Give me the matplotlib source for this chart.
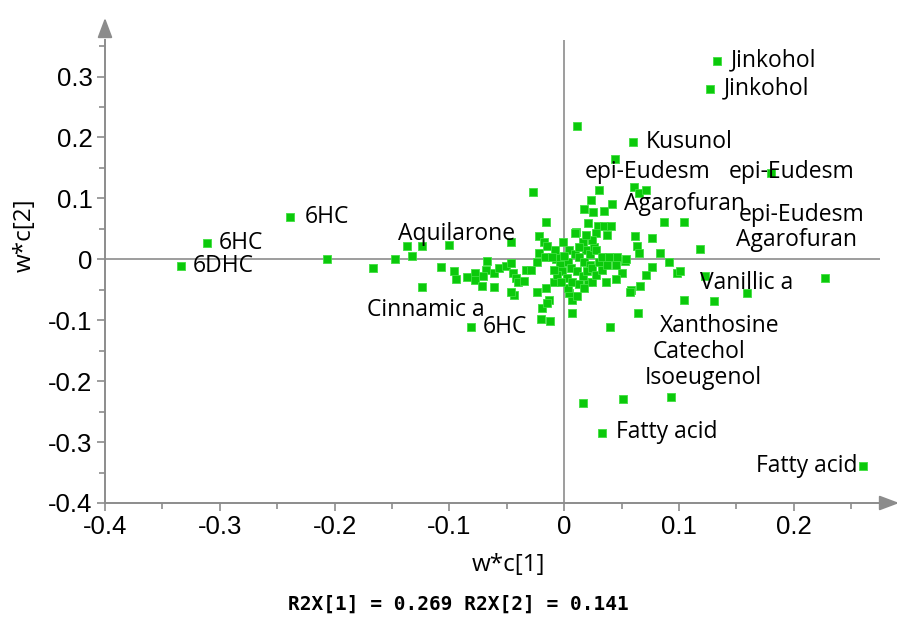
import matplotlib
matplotlib.use("Agg")
import matplotlib.pyplot as plt

plt.rcParams['axes.unicode_minus'] = False

# ---- loadings w*c[1] (x) and w*c[2] (y) ----
wc1 = [0.133, 0.127, 0.060, 0.044, 0.180, 0.011, -0.239, -0.311, -0.334, -0.081,
       0.033, 0.260, 0.016, 0.051, 0.093, 0.227, 0.159, 0.130, 0.104, 0.123,
       0.118, 0.104, 0.087, 0.083, 0.091, 0.098, 0.101, 0.064, 0.040, 0.007,
       0.007, -0.027, 0.030, 0.061, 0.065, 0.071, 0.023, 0.017, 0.025, 0.035,
       0.042, -0.016, 0.021, 0.029, 0.035, 0.041, 0.028, 0.037, 0.062, 0.076,
       0.063, 0.065, 0.053, 0.076, 0.071, 0.050, 0.045, 0.036, 0.066, 0.058,
       0.057, 0.021, 0.024, 0.004, 0.003, -0.100, -0.046, -0.107, -0.067, -0.068,
       -0.096, -0.094, -0.085, -0.078, -0.078, -0.072, -0.071, -0.061, -0.061, -0.057,
       -0.051, -0.046, -0.045, -0.042, -0.040, -0.035, -0.033, -0.029, -0.044, -0.046,
       -0.024, -0.016, -0.009, -0.013, -0.019, -0.015, -0.020, -0.012, -0.022, -0.018,
       -0.015, -0.022, -0.017, -0.024, -0.007, -0.004, -0.207, -0.167, -0.147, -0.137,
       -0.133, -0.124, -0.124,
       -0.001, 0.010, 0.016, 0.019, 0.004, 0.009, 0.013, 0.017, 0.022, 0.003,
       0.006, 0.011, 0.016, 0.020, 0.024, -0.004, -0.002, 0.002, 0.007, 0.013,
       0.017, -0.006, -0.003, -0.009, 0.011, 0.022, 0.026, 0.013, -0.008, -0.011,
       0.028, 0.030, 0.033, 0.000, 0.024, 0.019, 0.028, 0.033, 0.039, 0.046,
       0.054, 0.045, 0.037, 0.009]
wc2 = [0.326, 0.279, 0.192, 0.165, 0.142, 0.219, 0.070, 0.026, -0.011, -0.111,
       -0.285, -0.339, -0.236, -0.229, -0.226, -0.030, -0.055, -0.068, -0.066, -0.027,
       0.017, 0.062, 0.062, 0.011, -0.004, -0.022, -0.019, -0.088, -0.111, -0.088,
       -0.066, 0.111, 0.114, 0.119, 0.109, 0.113, 0.098, 0.083, 0.077, 0.080,
       0.091, 0.062, 0.060, 0.054, 0.054, 0.054, 0.044, 0.040, 0.039, 0.035,
       0.022, 0.011, -0.002, -0.012, -0.025, -0.022, -0.032, -0.038, -0.043, -0.050,
       -0.053, -0.038, -0.037, -0.055, -0.047, 0.024, 0.029, -0.012, -0.002, -0.017,
       -0.020, -0.032, -0.029, -0.022, -0.034, -0.043, -0.027, -0.045, -0.022, -0.015,
       -0.011, -0.006, -0.022, -0.030, -0.038, -0.035, -0.017, -0.017, -0.058, -0.053,
       -0.053, -0.047, -0.037, -0.066, -0.080, -0.071, -0.098, -0.101, 0.039, 0.029,
       0.022, 0.011, 0.004, -0.004, 0.000, 0.004, 0.001, -0.015, 0.001, 0.022,
       0.006, 0.022, -0.045,
       0.029, 0.045, 0.029, 0.016, 0.016, 0.008, 0.003, -0.004, -0.009, -0.004,
       -0.014, -0.020, -0.027, -0.020, -0.014, -0.009, -0.020, -0.030, -0.037, -0.040,
       -0.047, -0.025, -0.038, -0.017, -0.060, 0.008, 0.021, 0.021, 0.016, 0.003,
       -0.025, -0.004, -0.017, 0.006, 0.032, 0.040, 0.016, 0.004, 0.004, 0.004,
       0.000, -0.009, -0.009, 0.044]

# ---- variable labels ----
label_texts = ["Jinkohol", "Jinkohol", "Kusunol", "epi-Eudesm", "epi-Eudesm",
               "Agarofuran", "epi-Eudesm", "Agarofuran", "Aquilarone", "6HC",
               "6HC", "6DHC", "Cinnamic a", "6HC", "Vanillic a", "Xanthosine",
               "Catechol", "Isoeugenol", "Fatty acid", "Fatty acid"]
label_x = [0.145, 0.139, 0.071, 0.018, 0.143, 0.052, 0.152, 0.150, -0.145, -0.226,
           -0.301, -0.324, -0.172, -0.071, 0.118, 0.083, 0.077, 0.070, 0.045, 0.255]
label_y = [0.326, 0.280, 0.193, 0.144, 0.144, 0.091, 0.073, 0.032, 0.042, 0.070,
           0.027, -0.011, -0.083, -0.111, -0.039, -0.109, -0.152, -0.195, -0.284, -0.339]
label_ha = ["left"] * 19 + ["right"]

xticks = [-0.4, -0.3, -0.2, -0.1, 0, 0.1, 0.2]
yticks = [-0.4, -0.3, -0.2, -0.1, 0, 0.1, 0.2, 0.3]
xtick_labels = ["-0.4", "-0.3", "-0.2", "-0.1", "0", "0.1", "0.2"]
ytick_labels = ["-0.4", "-0.3", "-0.2", "-0.1", "0", "0.1", "0.2", "0.3"]

W, H = 897, 617
fig = plt.figure(figsize=(W / 100, H / 100), dpi=100)
ax = fig.add_axes([105 / W, 1 - 503 / H, 775 / W, 463 / H])

gray = "#8c8c8c"
ax.axhline(0, color=gray, lw=1.2, zorder=1)
ax.axvline(0, color=gray, lw=1.2, zorder=1)

ax.scatter(wc1, wc2, marker="s", s=40, facecolor="#0bc90b",
           edgecolor="#40e040", linewidth=0.6, zorder=3)

label_font = "Open Sans"
for t, x, y, ha in zip(label_texts, label_x, label_y, label_ha):
    ax.text(x, y, t, ha=ha, va="center", fontsize=16.5, family=label_font,
            color="black", zorder=4)

ax.set_xlim(-0.4, 0.275)
ax.set_ylim(-0.4, 0.36)
for s in ["top", "right"]:
    ax.spines[s].set_visible(False)
for s in ["left", "bottom"]:
    ax.spines[s].set_color(gray)
    ax.spines[s].set_linewidth(1.4)

ax.set_xticks(xticks)
ax.set_xticklabels(xtick_labels)
ax.set_yticks(yticks)
ax.set_yticklabels(ytick_labels)
ax.set_xticks([-0.35, -0.25, -0.15, -0.05, 0.05, 0.15, 0.25], minor=True)
ax.set_yticks([-0.35, -0.25, -0.15, -0.05, 0.05, 0.15, 0.25, 0.35], minor=True)
ax.tick_params(which="major", length=6, width=1.2, color=gray, direction="out",
               labelsize=18.5, pad=3)
ax.tick_params(which="minor", length=4, width=1.2, color=gray, direction="out")
for lab in ax.get_xticklabels() + ax.get_yticklabels():
    lab.set_family("Liberation Sans")

# arrow heads
ax.annotate("", xy=(0, 1.0 + 25 / 463), xycoords="axes fraction",
            xytext=(0, 1.0), textcoords="axes fraction",
            arrowprops=dict(arrowstyle="-|>,head_length=1.2,head_width=0.45",
                            color=gray, lw=1.4))
ax.annotate("", xy=(1.0 + 22 / 775, 0), xycoords="axes fraction",
            xytext=(1.0, 0), textcoords="axes fraction",
            arrowprops=dict(arrowstyle="-|>,head_length=1.2,head_width=0.45",
                            color=gray, lw=1.4))

fig.text(508 / W, 1 - 565 / H, "w*c[1]", ha="center", va="center",
         fontsize=17.5, family=label_font)
fig.text(25 / W, 1 - 235 / H, "w*c[2]", ha="center", va="center",
         fontsize=17.5, family=label_font, rotation=90)
fig.text(458 / W, 1 - 604 / H, "R2X[1] = 0.269 R2X[2] = 0.141", ha="center",
         va="center", fontsize=14, family="DejaVu Sans Mono", weight="bold")

fig.savefig("out.png", dpi=100)
